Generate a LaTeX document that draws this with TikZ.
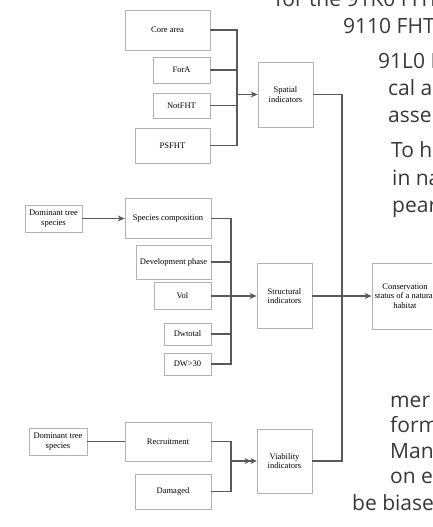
\documentclass[tikz,border=0pt]{standalone}
\usepackage{fontspec}
\setmainfont{Liberation Serif}
\newfontfamily\pagefont{Open Sans}
\usepackage{tikz}
\usetikzlibrary{arrows.meta}
\tikzset{
  bx/.style={draw=gray!60, line width=0.8pt, fill=white, font=\fontsize{8.5}{9.5}\selectfont,
             align=center, inner sep=1pt},
  ln/.style={draw=black!65, line width=1.5pt},
  ar/.style={ln, -{Stealth[length=7pt, width=6pt]}},
  arr/.style={ln, -{Stealth[length=6pt, width=6pt] Stealth[length=6pt, width=6pt]}},
  pg/.style={font=\pagefont\fontsize{21}{25}\selectfont, text=black!78, anchor=base west, inner sep=0pt}
}
\begin{document}
\begin{tikzpicture}[x=1pt, y=-1pt]
  \useasboundingbox (0,0) rectangle (432,527);
  \clip (0,0) rectangle (432,527);
  % spatial group
  \node[bx, minimum width=85, minimum height=40] (core) at (167.5,30) {Core area};
  \node[bx, minimum width=57, minimum height=26] (fora) at (181.5,70) {ForA};
  \node[bx, minimum width=57, minimum height=25] (notfht) at (181.5,105.5) {NotFHT};
  \node[bx, minimum width=75, minimum height=35] (psfht) at (172.5,145.5) {PSFHT};
  \node[bx, minimum width=55, minimum height=65] (spat) at (285.5,94.5) {Spatial\\indicators};
  % structural group
  \node[bx, minimum width=57, minimum height=27] (dom1) at (53.5,218.5) {Dominant tree\\species};
  \node[bx, minimum width=86, minimum height=40] (spcomp) at (168,218.5) {Species composition};
  \node[bx, minimum width=75, minimum height=34] (devph) at (173.5,262) {Development phase};
  \node[bx, minimum width=57, minimum height=27] (vol) at (182.5,296) {Vol};
  \node[bx, minimum width=47, minimum height=22] (dwtot) at (187.5,334) {Dwtotal};
  \node[bx, minimum width=47, minimum height=22] (dw30) at (187.5,364) {DW>30};
  \node[bx, minimum width=55, minimum height=65] (struct) at (284.5,296) {Structural\\indicators};
  \node[bx, minimum width=66, minimum height=66] (cons) at (405,296) {Conservation\\status of a natural\\habitat};
  % viability group
  \node[bx, minimum width=58, minimum height=27] (dom2) at (58,441.5) {Dominant tree\\species};
  \node[bx, minimum width=86, minimum height=39] (recr) at (168,441.5) {Recruitment};
  \node[bx, minimum width=76, minimum height=35] (dam) at (173,491.5) {Damaged};
  \node[bx, minimum width=55, minimum height=64] (viab) at (284.5,461) {Viability\\indicators};
  % buses
  \coordinate (sb) at (237,0);
  \coordinate (tb) at (231,0);
  \coordinate (tk) at (342,0);
  \draw[ln] (core.east) -| (sb |- psfht.east) -- (psfht.east);
  \draw[ln] (fora.east) -- (fora.east -| sb);
  \draw[ln] (notfht.east) -- (notfht.east -| sb);
  \draw[ar] (sb |- spat.west) -- (spat.west);
  \draw[ar] (dom1) -- (spcomp);
  \draw[ln] (spcomp.east) -| (tb |- dw30.east) -- (dw30.east);
  \draw[ln] (devph.east) -- (devph.east -| tb);
  \draw[ln] (dwtot.east) -- (dwtot.east -| tb);
  \draw[ar] (vol.east) -- (vol.east -| struct.west);
  \draw[ln] (dom2) -- (recr);
  \draw[ln] (recr.east) -| (tb |- dam.east) -- (dam.east);
  \draw[arr] (tb |- viab.west) -- (viab.west);
  \draw[ln] (spat.east) -| (tk |- viab.east) -- (viab.east);
  \draw[ar] (struct.east) -- (cons.west);
  % page text around the figure
  \node[pg] (t1) at (275,7) {for the 91K0 FHT};
  \node[pg] (t2) at (343,34) {9110 FHT};
  \node[pg] (t3) at (378,68) {91L0 F};
  \node[pg] (t4) at (388,95) {cal a};
  \node[pg] (t5) at (388,122) {asse};
  \node[pg] (t6) at (391,157) {To h};
  \node[pg] (t7) at (392,185) {in na};
  \node[pg] (t8) at (392,212) {pear};
  \node[pg] (t9) at (390,407) {mer};
  \node[pg] (t10) at (390,432) {form};
  \node[pg] (t11) at (390,458) {Man};
  \node[pg] (t12) at (390,483) {on e};
  \node[pg] (t13) at (352,510) {be biase};
\end{tikzpicture}
\end{document}
